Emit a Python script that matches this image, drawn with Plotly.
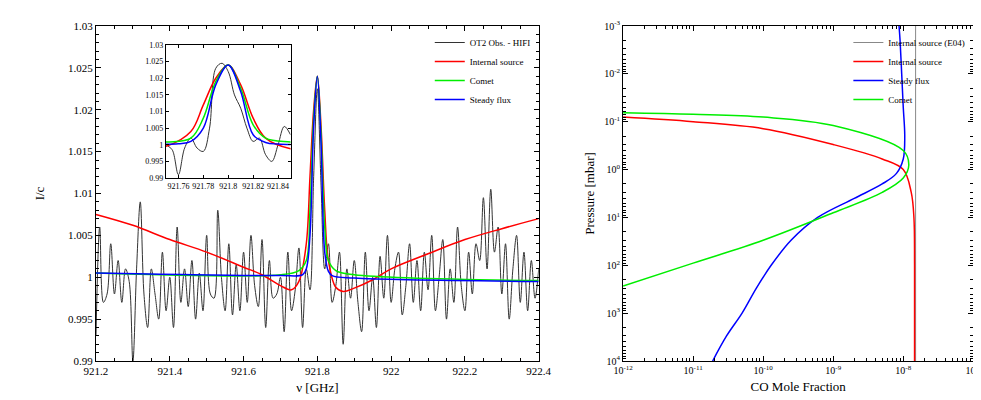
import plotly.graph_objects as go

# observed spectrum (main panel), 0.01 GHz spacing
obs_x = [round(921.20 + 0.01 * i, 2) for i in range(121)]
obs_y = [
    0.993, 1.006, 0.997, 0.998, 1.004, 0.998, 1.002, 0.997, 1.001, 0.9995,
    0.990, 1.001, 1.009, 0.998, 0.994, 1.001, 0.998, 0.995, 1.003, 0.996,
    1.000, 0.994, 1.006, 0.997, 1.001, 0.9965, 1.002, 0.995, 1.0005, 0.996,
    1.005, 0.998, 0.9975, 1.008, 1.000, 0.996, 1.004, 0.9955, 1.0015, 0.996,
    1.003, 0.997, 1.005, 0.999, 0.9965, 1.0045, 0.994, 1.002, 0.9975, 0.998,
    1.000, 0.9935, 1.003, 0.996, 0.9985, 1.0035, 0.994, 1.001, 0.9985, 1.012,
    1.0225, 1.011, 1.001, 1.004, 0.997, 0.999, 1.003, 0.992, 1.001, 0.9975,
    1.002, 0.997, 0.9935, 1.003, 0.996, 1.000, 0.994, 1.0025, 0.9975, 1.005,
    0.997, 1.001, 1.003, 0.9955, 0.999, 1.004, 0.997, 1.002, 0.996, 1.003,
    0.9985, 1.005, 0.996, 1.000, 1.0045, 0.995, 1.001, 0.997, 1.006, 0.999,
    0.996, 1.003, 0.998, 1.004, 1.002, 1.0095, 1.001, 1.0105, 1.003, 1.006,
    0.998, 1.004, 0.995, 1.001, 1.005, 0.997, 1.003, 0.996, 1.002, 0.9975,
    1.001,
]

# observed spectrum (inset), finer
ins_x = [921.750, 921.755, 921.760, 921.765, 921.770, 921.775, 921.780, 921.785,
         921.790, 921.795, 921.800, 921.805, 921.810, 921.815, 921.820, 921.825,
         921.830, 921.835, 921.840, 921.845, 921.850]
ins_y = [1.000, 0.9985, 0.991, 0.999, 1.002, 0.999, 0.998, 1.005,
         1.023, 1.0245, 1.022, 1.015, 1.011, 1.005, 1.001, 1.002,
         0.997, 0.995, 1.000, 1.0055, 1.003]

# model spectra
red_x = [921.2, 921.3, 921.4, 921.5, 921.6, 921.65, 921.7, 921.73, 921.75, 921.77,
         921.78, 921.79, 921.8, 921.81, 921.82, 921.83, 921.85, 921.87, 921.9,
         921.95, 922.0, 922.1, 922.2, 922.3, 922.4]
red_y = [1.0075, 1.0062, 1.0045, 1.003, 1.0012, 1.0003, 0.999, 0.9985, 0.9995, 1.004,
         1.012, 1.020, 1.024, 1.018, 1.008, 1.002, 0.9988, 0.9983, 0.9987,
         0.9997, 1.001, 1.0028, 1.0045, 1.0058, 1.007]
blue_x = [921.2, 921.7, 921.76, 921.77, 921.78, 921.79, 921.8, 921.81, 921.82,
          921.83, 921.84, 921.9, 922.4]
blue_y = [1.0005, 1.0002, 1.0003, 1.001, 1.005, 1.018, 1.024, 1.016, 1.003,
          1.0007, 1.0002, 0.9999, 0.9995]
green_x = [921.2, 921.7, 921.75, 921.77, 921.78, 921.79, 921.8, 921.81, 921.82,
           921.83, 921.85, 921.9, 922.4]
green_y = [1.0005, 1.0003, 1.0008, 1.002, 1.008, 1.019, 1.024, 1.017, 1.006,
           1.002, 1.0008, 1.0003, 0.9996]

# vertical profiles (right panel)
e04_x = [1.5e-8, 1.5e-8]
e04_p = [1e-3, 1e4]
int_x = [1e-12, 1e-11, 1e-10, 1e-9, 5e-9, 1e-8, 1.3e-8, 1.42e-8, 1.45e-8, 1.45e-8]
int_p = [0.08, 0.1, 0.14, 0.3, 0.6, 1.0, 3, 10, 100, 1e4]
sf_x = [8.7e-9, 9e-9, 9.5e-9, 1e-8, 1.05e-8, 1e-8, 8e-9, 5e-9, 2e-9, 6e-10,
        2.5e-10, 1.3e-10, 8e-11, 5e-11, 3e-11, 1.9e-11]
sf_p = [1e-3, 2e-3, 0.01, 0.05, 0.2, 0.6, 1.2, 2, 4, 10,
        30, 100, 300, 1000, 3000, 1e4]
com_x = [1e-12, 1e-11, 1e-10, 1e-9, 1e-8, 1.2e-8, 1e-8, 5e-9, 1e-9, 1e-10, 1e-11, 1e-12]
com_p = [0.065, 0.07, 0.08, 0.12, 0.4, 0.8, 1.5, 3, 8, 30, 90, 270]

RED, GREEN, BLUE, GREY = "#ff0000", "#00ee00", "#0000ff", "#333333"
FONT = "Liberation Serif"


def line(c, w=1.5, shape="spline"):
    return dict(color=c, width=w, shape=shape)


fig = go.Figure()
# left panel
fig.add_trace(go.Scatter(x=obs_x, y=obs_y, mode="lines", name="OT2 Obs. - HIFI", line=line(GREY, 1), legend="legend"))
fig.add_trace(go.Scatter(x=red_x, y=red_y, mode="lines", name="Internal source", line=line(RED), legend="legend"))
fig.add_trace(go.Scatter(x=green_x, y=green_y, mode="lines", name="Comet", line=line(GREEN), legend="legend"))
fig.add_trace(go.Scatter(x=blue_x, y=blue_y, mode="lines", name="Steady flux", line=line(BLUE), legend="legend"))
# inset
for xs, ys, c, w in [(ins_x, ins_y, GREY, 1), (red_x, red_y, RED, 1.5),
                     (green_x, green_y, GREEN, 1.5), (blue_x, blue_y, BLUE, 1.5)]:
    fig.add_trace(go.Scatter(x=xs, y=ys, mode="lines", xaxis="x3", yaxis="y3",
                             showlegend=False, line=line(c, w)))
# right panel
fig.add_trace(go.Scatter(x=e04_x, y=e04_p, mode="lines", name="Internal source (E04)", xaxis="x2", yaxis="y2", line=line("#888888", 1, "linear"), legend="legend2"))
fig.add_trace(go.Scatter(x=int_x, y=int_p, mode="lines", name="Internal source", xaxis="x2", yaxis="y2", line=line(RED), legend="legend2"))
fig.add_trace(go.Scatter(x=sf_x, y=sf_p, mode="lines", name="Steady flux", xaxis="x2", yaxis="y2", line=line(BLUE), legend="legend2"))
fig.add_trace(go.Scatter(x=com_x, y=com_p, mode="lines", name="Comet", xaxis="x2", yaxis="y2", line=line(GREEN), legend="legend2"))

ax = dict(showgrid=False, zeroline=False, showline=True, linecolor="black", linewidth=1,
          mirror="ticks", ticks="inside", ticklen=5, tickcolor="black",
          tickfont=dict(size=11, family=FONT, color="black"), automargin=False)
minor = dict(ticks="inside", ticklen=3, tickcolor="black")

xv = [921.2 + 0.2 * i for i in range(7)]
yv = [0.99 + 0.005 * i for i in range(9)]
lab = lambda v: ("%g" % round(v, 4))
sup = lambda e: "10<sup>%d</sup>" % e
log_minor = lambda lo, hi: [m * 10.0 ** e for e in range(lo, hi) for m in range(2, 10)]

fig.update_layout(
    width=981, height=400, margin=dict(l=0, r=0, t=0, b=0),
    paper_bgcolor="white", plot_bgcolor="white",
    font=dict(family=FONT, size=11, color="black"),
    xaxis=dict(ax, domain=[0.0897, 0.541], range=[921.2, 922.4], tickvals=xv,
               ticktext=[lab(v) for v in xv], minor=dict(minor, dtick=0.05),
               title=dict(text="ν [GHz]", font=dict(size=13, family=FONT), standoff=6)),
    yaxis=dict(ax, domain=[0.1175, 0.955], range=[0.99, 1.03], tickvals=yv,
               ticktext=[lab(v) for v in yv], minor=dict(minor, dtick=0.001),
               title=dict(text="I/c", font=dict(size=13, family=FONT), standoff=20)),
    xaxis3=dict(ax, domain=[0.161, 0.288], anchor="y3", range=[921.75, 921.85],
                tickvals=[921.76, 921.78, 921.8, 921.82, 921.84],
                ticktext=["921.76", "921.78", "921.8", "921.82", "921.84"],
                ticklen=3, tickfont=dict(size=8, family=FONT)),
    yaxis3=dict(ax, domain=[0.575, 0.9075], anchor="x3", range=[0.99, 1.03], tickvals=yv,
                ticktext=[lab(v) for v in yv], ticklen=3, tickfont=dict(size=8, family=FONT)),
    xaxis2=dict(ax, domain=[0.627, 0.984], anchor="y2", type="log", range=[-12, -7],
                tickvals=[10.0 ** e for e in range(-12, -6)], ticktext=[sup(e) for e in range(-12, -6)],
                tickfont=dict(size=10, family=FONT), minor=dict(minor, tickvals=log_minor(-12, -7)),
                title=dict(text="CO Mole Fraction", font=dict(size=13, family=FONT), standoff=6)),
    yaxis2=dict(ax, domain=[0.1175, 0.955], anchor="x2", type="log", range=[4, -3],
                tickvals=[10.0 ** e for e in range(-3, 5)], ticktext=[sup(e) for e in range(-3, 5)],
                tickfont=dict(size=10, family=FONT), minor=dict(minor, tickvals=log_minor(-3, 4)),
                title=dict(text="Pressure [mbar]", font=dict(size=13, family=FONT), standoff=6)),
    legend=dict(x=0.538, y=0.95, xanchor="right", yanchor="top", bgcolor="rgba(0,0,0,0)",
                font=dict(size=9, family=FONT), tracegroupgap=0, itemwidth=30),
    legend2=dict(x=0.981, y=0.95, xanchor="right", yanchor="top", bgcolor="rgba(0,0,0,0)",
                 font=dict(size=9, family=FONT), tracegroupgap=0, itemwidth=30),
)
fig.write_html("out.html")
